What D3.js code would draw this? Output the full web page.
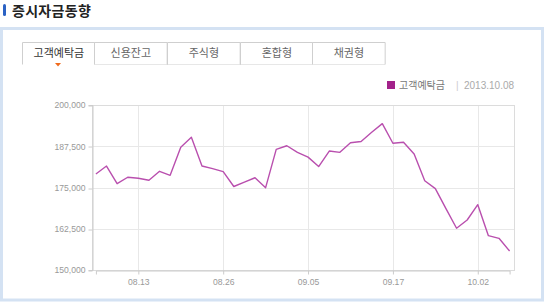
<!DOCTYPE html>
<html><head><meta charset="utf-8">
<script src="https://cdn.jsdelivr.net/npm/d3@7"></script>
<style>
html,body{margin:0;padding:0;background:#fff;}
svg{display:block;}
</style></head>
<body>
<svg id="c" width="545" height="302"></svg>
<script>
const title = "증시자금동향";
const tabs = ["고객예탁금","신용잔고","주식형","혼합형","채권형"];
const seriesName = "고객예탁금";
const legendDate = "2013.10.08";
const dates = ["08.07","08.08","08.09","08.12","08.13","08.14","08.16","08.19","08.20","08.21",
  "08.22","08.23","08.26","08.27","08.28","08.29","08.30","09.02","09.03","09.04",
  "09.05","09.06","09.09","09.10","09.11","09.12","09.13","09.16","09.17","09.23",
  "09.24","09.25","09.26","09.27","09.30","10.01","10.02","10.04","10.07","10.08"];
const values = [179100,181500,176150,178100,177800,177200,179900,178700,187200,190200,
  181500,180700,179800,175300,176600,177950,174950,186550,187650,185650,
  184200,181350,186050,185650,188550,188950,191750,194350,188400,188700,
  185150,177050,174650,168600,162650,165150,169800,160400,159600,155750];
const yTicks = [150000,162500,175000,187500,200000];
const xTicks = ["08.13","08.26","09.05","09.17","10.02"];

const svg = d3.select("#c");
const font = "'Liberation Sans', Arial, sans-serif";
const kfont = "'Noto Sans CJK KR', sans-serif";

// title
svg.append("rect").attr("x",3).attr("y",4).attr("width",3).attr("height",12).attr("rx",1.5).attr("fill","#2b62c4");
svg.append("text").attr("x",12).attr("y",15.5).attr("font-family",kfont).attr("font-weight","bold")
  .attr("font-size",14).attr("letter-spacing",0.3).attr("fill","#222").text(title);

// panel
svg.append("rect").attr("x",1.5).attr("y",28.5).attr("width",541).attr("height",271.5)
  .attr("fill","#fff").attr("stroke","#d4e2f3").attr("stroke-width",3);

// tabs
const tabX = d3.scaleBand().domain(tabs).range([21.7,385]).padding(0);
const tg = svg.append("g");
tg.append("line").attr("x1",tabX(tabs[1])).attr("x2",385).attr("y1",64.5).attr("y2",64.5).attr("stroke","#cfcfcf");
tabs.forEach((t,i)=>{
  const x = Math.round(tabX(t))+0.5, w = tabX.bandwidth();
  tg.append("path").attr("d",`M${x},64.5V42.5H${x+w}V64.5`).attr("fill","#fff").attr("stroke","#cfcfcf");
  tg.append("text").attr("x",x+w/2).attr("y",57).attr("text-anchor","middle").attr("font-family",kfont)
    .attr("font-size",11).attr("fill",i===0?"#333":"#666").text(t);
});
const ax = tabX(tabs[0])+tabX.bandwidth()/2;
tg.append("path").attr("d",`M${ax-3},63L${ax+3},63L${ax},66.5Z`).attr("fill","#f06a1c");

// legend
svg.append("rect").attr("x",387).attr("y",81).attr("width",8).attr("height",8).attr("fill","#a3228a");
svg.append("text").attr("x",399).attr("y",89).attr("font-family",kfont).attr("font-size",10).attr("fill","#777").text(seriesName);
svg.append("text").attr("x",456).attr("y",89).attr("font-family",font).attr("font-size",10).attr("fill","#ccc").text("|");
svg.append("text").attr("x",464).attr("y",89).attr("font-family",font).attr("font-size",10).attr("fill","#aaa").text(legendDate);

// plot
const L=92, R=515, T=105, B=270;
const x = d3.scalePoint().domain(dates).range([95.9,509.6]);
const y = d3.scaleLinear().domain([150000,200000]).range([B,T]);

// grid
const grid = svg.append("g");
grid.selectAll(".hg").data(yTicks).join("line").attr("x1",L).attr("x2",R)
  .attr("y1",d=>Math.round(y(d))+0.5).attr("y2",d=>Math.round(y(d))+0.5).attr("stroke","#e8e8e8");
grid.selectAll(".vg").data(xTicks).join("line").attr("y1",T).attr("y2",B)
  .attr("x1",d=>Math.round(x(d))+0.5).attr("x2",d=>Math.round(x(d))+0.5).attr("stroke","#e8e8e8");
svg.append("rect").attr("x",L+0.5).attr("y",T+0.5).attr("width",R-L-1).attr("height",B-T)
  .attr("fill","none").attr("stroke","#dcdcdc");

// axes
const yAxis = svg.append("g").attr("transform",`translate(${L+0.5},0)`)
  .call(d3.axisLeft(y).tickValues(yTicks).tickSize(4).tickPadding(3).tickFormat(d3.format(",")));
const xAxis = svg.append("g").attr("transform",`translate(0,${B+0.5})`)
  .call(d3.axisBottom(x).tickValues(xTicks).tickSize(4).tickPadding(4));
[yAxis,xAxis].forEach(a=>{
  a.select(".domain").attr("stroke","#cccccc");
  a.selectAll(".tick line").attr("stroke","#cccccc");
  a.selectAll("text").attr("fill","#999").attr("font-family",font).attr("font-size",8.6);
});
yAxis.selectAll(".tick line").attr("transform",d=>`translate(0,${Math.round(y(d))+0.5-y(d)})`);

// line
const line = d3.line().x((d,i)=>x(dates[i])).y(d=>y(d));
svg.append("path").datum(values).attr("d",line).attr("fill","none")
  .attr("stroke","#b94fae").attr("stroke-width",1.4).attr("stroke-linejoin","round");
</script>
</body></html>
